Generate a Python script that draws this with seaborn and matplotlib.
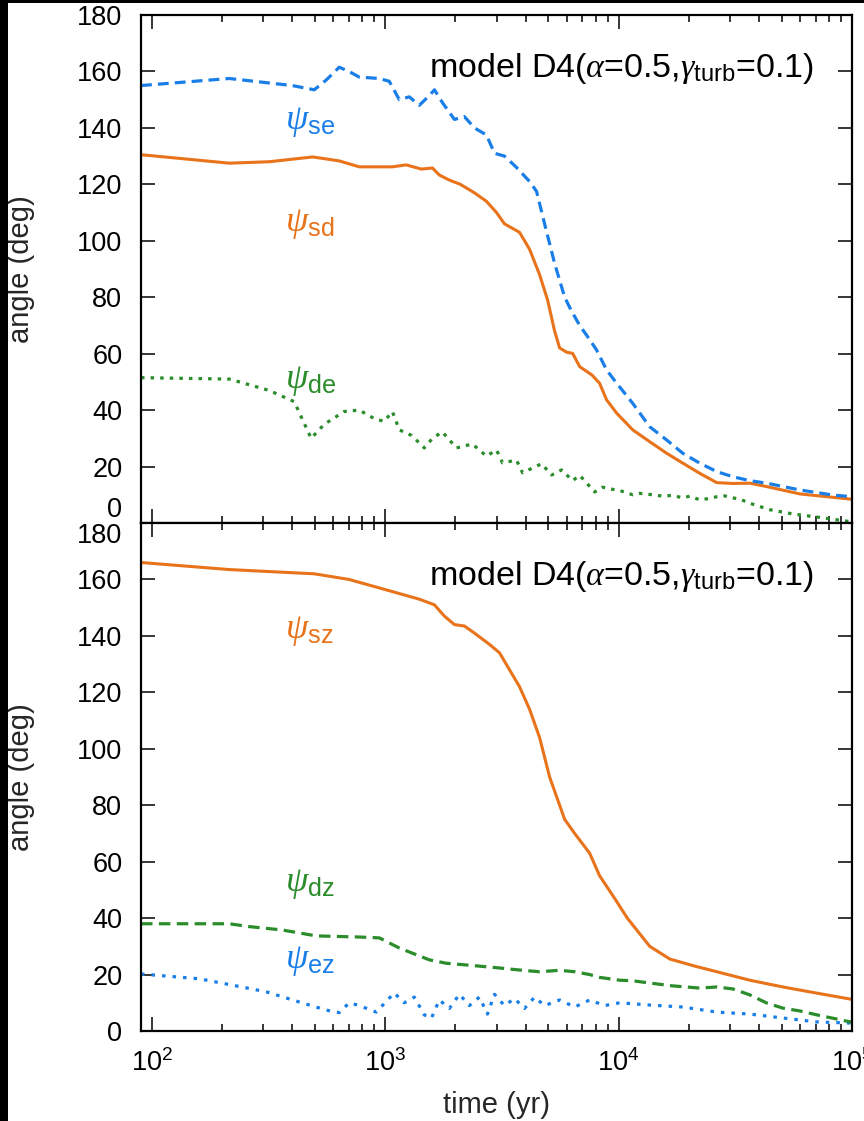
import numpy as np
import pandas as pd
import matplotlib
matplotlib.use("Agg")
import matplotlib.pyplot as plt
from matplotlib.patches import Rectangle
import seaborn as sns

# ---------------- data ----------------
# top panel
t_se = [90, 215, 400, 497, 560, 636, 700, 775, 944, 1042, 1150, 1269, 1401, 1548, 1627,
        1758, 1981, 2186, 2413, 2716, 2942, 3246, 3654, 4157, 4454, 4821, 5322, 5876,
        6296, 6815, 7519, 8050, 8890, 9820, 11500, 13600, 16080, 18850, 22280, 26350,
        30870, 36500, 43160, 59850, 82900, 100000]
v_se = [155, 157.5, 155, 153.5, 157, 161.5, 160, 158, 157.5, 156.5, 150, 151, 148, 151.5,
        153.5, 149, 143, 144, 140, 137.5, 131, 130, 126, 121, 117.5, 106, 92, 80,
        75, 70, 65, 61.3, 54.2, 49.5, 42.4, 34.1, 29.4, 24.7, 21.2, 18.2,
        16.4, 15, 14.1, 11.7, 9.9, 9.3]

t_sd = [90, 215, 318, 490, 636, 775, 1074, 1230, 1430, 1595, 1707, 1885, 2100, 2413,
        2716, 3000, 3246, 3765, 4157, 4589, 4966, 5322, 5593, 6000, 6359, 6815, 7700,
        8295, 8890, 9820, 11500, 13600, 16080, 18850, 22280, 26350, 30870, 36500,
        43160, 59850, 100000]
v_sd = [130.5, 127.5, 128, 129.7, 128.3, 126.2, 126.2, 126.9, 125.4, 125.8, 123.3, 121.5,
        120, 117, 114, 110, 106, 103, 97, 88, 79, 68, 62, 60.5, 60.1, 55.4, 52.4,
        49.5, 43.6, 38.9, 33, 28.8, 24.7, 21.2, 17.6, 14.3, 14.0, 14.1,
        12.9, 10.3, 8.4]

t_de = [90, 215, 318, 408, 482, 549, 668, 775, 898, 991, 1074, 1150, 1300, 1472, 1595,
        1758, 2020, 2365, 2716, 3000, 3184, 3654, 3880, 4679, 5165, 5701, 6359, 6815,
        7898, 8545, 9340, 10110, 11500, 12330, 14000, 15500, 17000, 18850, 20200,
        22280, 24000, 26350, 28500, 30870, 33000, 36500, 44460, 55850, 70840, 100000]
v_de = [51.5, 51, 47, 43, 30, 35, 39.5, 40, 37, 36, 39.5, 33, 31, 26.6, 30,
        32.3, 26.6, 28, 23.7, 25.9, 21.3, 22.3, 17.8, 21, 17, 18.8, 15, 16.9,
        11, 12.7, 12, 11.5, 10, 10.5, 10, 9.5, 9.8, 8.9, 9.5,
        8.2, 8.6, 9.3, 9.6, 8.9, 8.5, 7, 4.7, 3.2, 2.1, 0.4]

# bottom panel
t_sz = [90, 215, 497, 700, 944, 1150, 1401, 1627, 1794, 1981, 2186, 2413, 2798, 3091,
        3411, 3765, 4157, 4589, 5066, 5322, 5876, 6486, 7519, 8295, 9620, 10900,
        13600, 16580, 21200, 26350, 36500, 50580, 70840, 100000]
v_sz = [166, 163.5, 162, 160, 157, 155, 153, 151, 147, 144, 143.5, 141, 137, 134,
        128, 122, 114, 104, 90, 85, 75, 70, 63, 55, 47, 40,
        30, 25.5, 23, 21, 18, 15.6, 13.4, 11.2]

t_dz = [90, 215, 261, 362, 507, 775, 944, 1150, 1548, 1829, 2296, 2942, 3880, 4589,
        5593, 6486, 7519, 8295, 10110, 11500, 13600, 17000, 20200, 22280, 26350,
        30870, 36500, 43160, 50580, 59850, 70840, 100000]
v_dz = [38, 38, 37, 35.8, 33.7, 33.3, 33, 29.4, 25.2, 24, 23.3, 22.5, 21.5, 21,
        21.5, 21, 20, 19, 18, 17.8, 17, 16, 15.5, 15.2, 15.6,
        14.9, 12.8, 9.9, 8.1, 7.1, 5.7, 3.1]

t_ez = [90, 160, 220, 309, 428, 560, 636, 702, 775, 916, 1094, 1207, 1334, 1472, 1578,
        1707, 1885, 2080, 2296, 2535, 2744, 2942, 3246, 3583, 3956, 4367, 4821, 5593,
        6486, 7519, 8710, 10110, 13600, 18850, 26350, 36500, 50580, 70840, 100000]
v_ez = [20.2, 18.5, 16.3, 13.9, 10.3, 7.4, 6.5, 10, 9, 6.7, 13.5, 10, 12, 5.7, 4.5,
        11, 8, 13, 9, 12, 6, 13, 9, 11.5, 8, 12, 9, 11,
        8.5, 11, 9, 10, 9.2, 8.5, 6.7, 6, 4.6, 3.2, 2.8]

yticks = [0, 20, 40, 60, 80, 100, 120, 140, 160, 180]
title_text = r"model D4($\alpha$=0.5,$\gamma_{\rm turb}$=0.1)"

BLUE = "#1a7ee8"
ORANGE = "#e8731a"
GREEN = "#2a8c2a"

# ---------------- style ----------------
sns.set_theme(style="ticks")
plt.rcParams["font.family"] = ["Liberation Sans", "DejaVu Sans"]
plt.rcParams["mathtext.fontset"] = "custom"
plt.rcParams["mathtext.rm"] = "Liberation Sans"
plt.rcParams["mathtext.it"] = "Liberation Serif:italic"
plt.rcParams["mathtext.bf"] = "Liberation Sans:bold"
plt.rcParams["axes.linewidth"] = 1.6

fig = plt.figure(figsize=(8.64, 11.21), dpi=100)
fig.patch.set_facecolor("white")

L, W = 141 / 864, (852 - 141) / 864
H = 508 / 1121
ax1 = fig.add_axes([L, 1 - 523 / 1121, W, H])
ax2 = fig.add_axes([L, 1 - 1031 / 1121, W, H])


def draw(ax, t, v, color, lw, dashes):
    df = pd.DataFrame({"t": t, "v": v})
    sns.lineplot(data=df, x="t", y="v", ax=ax, color=color, lw=lw,
                 estimator=None, sort=False, legend=False)
    line = ax.lines[-1]
    if dashes is not None:
        line.set_dashes(dashes)
        line.set_dash_capstyle("butt")
    line.set_solid_joinstyle("round")


draw(ax1, t_de, v_de, GREEN, 2.3, (1.1, 1.9))
draw(ax1, t_sd, v_sd, ORANGE, 2.2, None)
draw(ax1, t_se, v_se, BLUE, 2.3, (3.4, 1.9))

draw(ax2, t_ez, v_ez, BLUE, 2.3, (1.1, 2.2))
draw(ax2, t_dz, v_dz, GREEN, 2.3, (3.6, 2.0))
draw(ax2, t_sz, v_sz, ORANGE, 2.2, None)

for ax in (ax1, ax2):
    ax.set_xscale("log")
    ax.set_xlim(90, 1e5)
    ax.set_ylim(0, 180)
    ax.set_yticks(yticks)
    ax.yaxis.set_minor_locator(matplotlib.ticker.NullLocator())
    ax.tick_params(which="both", direction="in", top=True, right=True,
                   labelsize=19.5, colors="black")
    ax.tick_params(which="major", length=10, width=1.1)
    ax.tick_params(which="minor", length=5, width=1.1)
    ax.tick_params(axis="y", pad=13.5)
    ax.tick_params(axis="x", pad=13)
    ax.set_ylabel("angle (deg)", fontsize=21)
    ax.yaxis.set_label_coords(-0.149, 0.5)
    ax.set_xlabel("")
    for s in ax.spines.values():
        s.set_linewidth(1.6)
        s.set_color("black")
    ax.text(0.946, 0.8785, title_text, transform=ax.transAxes, ha="right",
            va="baseline", fontsize=24.5, color="black")

ax1.tick_params(labelbottom=False)
ax2.set_xlabel("time (yr)", fontsize=21)
ax2.xaxis.set_label_coords(0.5, -0.119)

# psi labels
lx = 0.2025
psi_fs = 26
ax1.text(lx, 0.790, r"$\psi_{\rm se}$", transform=ax1.transAxes, color=BLUE,
         fontsize=psi_fs, ha="left", va="center")
ax1.text(lx, 0.590, r"$\psi_{\rm sd}$", transform=ax1.transAxes, color=ORANGE,
         fontsize=psi_fs, ha="left", va="center")
ax1.text(lx, 0.281, r"$\psi_{\rm de}$", transform=ax1.transAxes, color=GREEN,
         fontsize=psi_fs, ha="left", va="center")
ax2.text(lx, 0.789, r"$\psi_{\rm sz}$", transform=ax2.transAxes, color=ORANGE,
         fontsize=psi_fs, ha="left", va="center")
ax2.text(lx, 0.291, r"$\psi_{\rm dz}$", transform=ax2.transAxes, color=GREEN,
         fontsize=psi_fs, ha="left", va="center")
ax2.text(lx, 0.138, r"$\psi_{\rm ez}$", transform=ax2.transAxes, color=BLUE,
         fontsize=psi_fs, ha="left", va="center")

# shift the clashing labels at the shared boundary
fig.canvas.draw()
ax1.get_yticklabels()[0].set_verticalalignment("bottom")
ax2.get_yticklabels()[-1].set_verticalalignment("top")

# black border strips as in the reference
fig.add_artist(Rectangle((0, 0), 8 / 864, 1, transform=fig.transFigure,
                         facecolor="black", edgecolor="none", zorder=10))
fig.add_artist(Rectangle((0, 1 - 3.3 / 1121), 1, 3.3 / 1121, transform=fig.transFigure,
                         facecolor="black", edgecolor="none", zorder=10))

fig.savefig("out.png", dpi=100)
